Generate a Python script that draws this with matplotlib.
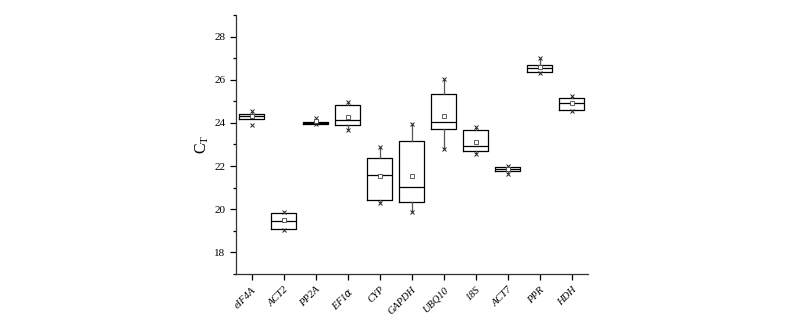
import matplotlib.pyplot as plt
import numpy as np
from matplotlib.ticker import MultipleLocator

plt.rcParams['font.family'] = ['Liberation Serif', 'DejaVu Serif']
plt.rcParams['mathtext.fontset'] = 'custom'
plt.rcParams['mathtext.rm'] = 'Liberation Serif'

genes = ['eIF4A', 'ACT2', 'PP2A', r'EF1$\alpha$', 'CYP', 'GAPDH', 'UBQ10', '18S', 'ACT7', 'PPR', 'HDH']
q1 = [24.19, 19.08, 23.96, 23.91, 20.44, 20.35, 23.73, 22.72, 21.76, 26.37, 24.61]
q3 = [24.41, 19.83, 24.03, 24.84, 22.35, 23.17, 25.35, 23.66, 21.96, 26.67, 25.13]
med = [24.30, 19.44, 24.00, 24.13, 21.59, 21.03, 24.05, 22.94, 21.85, 26.53, 24.93]
mean = [24.30, 19.48, 24.08, 24.28, 21.54, 21.56, 24.31, 23.10, 21.87, 26.57, 24.93]
whislo = [24.19, 19.08, 23.96, 23.66, 20.29, 19.87, 22.77, 22.55, 21.65, 26.30, 24.54]
whishi = [24.56, 19.89, 24.03, 24.98, 22.87, 23.93, 26.02, 23.80, 21.98, 27.01, 25.26]
minv = [23.88, 19.05, 23.97, 23.66, 20.29, 19.87, 22.77, 22.55, 21.65, 26.30, 24.54]
maxv = [24.56, 19.89, 24.24, 24.98, 22.87, 23.93, 26.02, 23.80, 21.98, 27.01, 25.26]

stats = []
for i in range(len(genes)):
    stats.append(dict(med=med[i], q1=q1[i], q3=q3[i], whislo=whislo[i], whishi=whishi[i],
                      mean=mean[i], fliers=[minv[i], maxv[i]]))

fig = plt.figure(figsize=(8, 3.25), dpi=100)
ax = fig.add_axes([0.2946, 0.157, 0.44, 0.797])

ax.bxp(stats, positions=np.arange(1, 12), widths=0.8, showmeans=True, showcaps=False,
       boxprops=dict(color='black', linewidth=0.9),
       medianprops=dict(color='black', linewidth=0.9),
       whiskerprops=dict(color='#555555', linewidth=0.9),
       meanprops=dict(marker='s', markersize=3.5, markerfacecolor='white',
                      markeredgecolor='#444444', markeredgewidth=0.6),
       flierprops=dict(marker='x', markersize=3.5, markeredgecolor='#222222',
                       markeredgewidth=0.7))

ax.set_xlim(0.5, 11.5)
ax.set_ylim(17, 29)
ax.yaxis.set_major_locator(MultipleLocator(2))
ax.yaxis.set_minor_locator(MultipleLocator(1))
ax.set_yticks([18, 20, 22, 24, 26, 28])
ax.set_xticks(np.arange(1, 12))
ax.set_xticklabels(genes, rotation=45, ha='right', rotation_mode='anchor',
                   fontstyle='italic', fontsize=7.5)
ax.tick_params(axis='y', labelsize=8, length=4, width=0.9, direction='out')
ax.tick_params(axis='y', which='minor', length=2.5, width=0.9)
ax.tick_params(axis='x', length=4, width=0.9, direction='out', pad=4)
ax.set_ylabel(r'C$_\mathregular{T}$', fontsize=11.5, labelpad=2)

for s in ['top', 'right']:
    ax.spines[s].set_visible(False)
for s in ['left', 'bottom']:
    ax.spines[s].set_linewidth(0.9)
    ax.spines[s].set_color('#333333')

fig.savefig('out.png', dpi=100)
